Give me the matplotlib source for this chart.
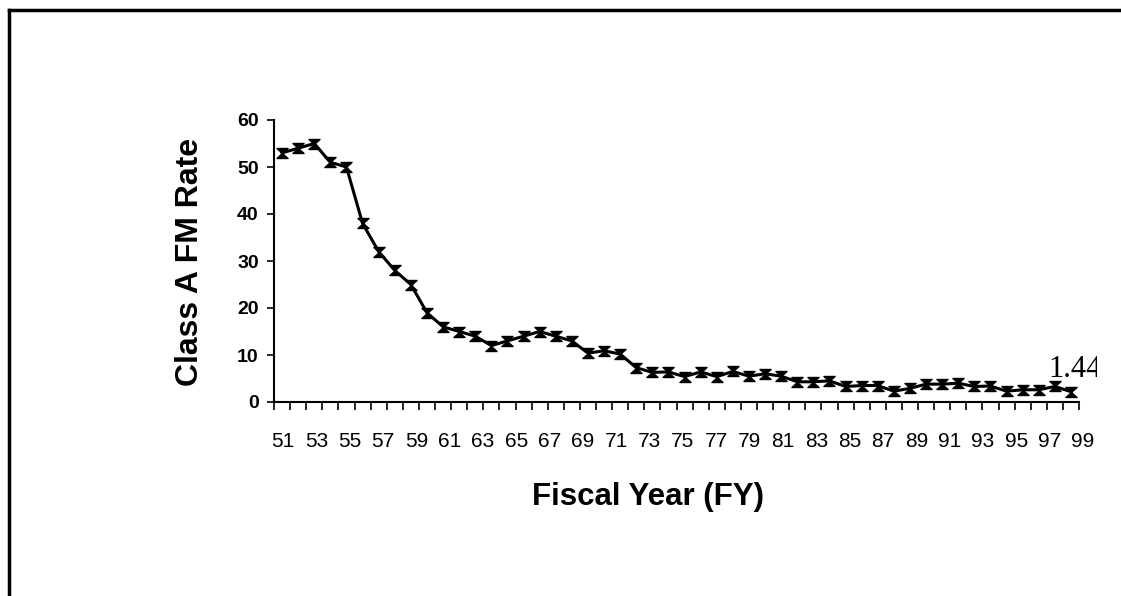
import matplotlib
matplotlib.use("Agg")
import matplotlib.pyplot as plt
from matplotlib.path import Path
from matplotlib.lines import Line2D
import matplotlib.patches as mpatches

# ---- data ----
years = list(range(51, 101))
rates = [53, 54, 55, 51, 50, 38, 32, 28, 25, 19,
         16, 15, 14, 12, 13, 14, 15, 14, 13, 10.4,
         10.9, 10.2, 7.3, 6.3, 6.4, 5.4, 6.4, 5.4, 6.5, 5.5,
         6.0, 5.5, 4.3, 4.3, 4.5, 3.3, 3.5, 3.5, 2.3, 2.9,
         3.8, 3.8, 4.0, 3.3, 3.4, 2.3, 2.6, 2.6, 3.3, 2.2]
yticks = [0, 10, 20, 30, 40, 50, 60]
xlabels = list(range(51, 100, 2))
end_label = "1.44"

W, H = 1121, 596
fig = plt.figure(figsize=(W / 100, H / 100), dpi=100)
fig.patch.set_facecolor("white")

def fx(px):
    return px / W

def fy(py):
    return 1 - py / H

# frame (left and top edges)
fig.add_artist(Line2D([fx(9), fx(9)], [fy(10), fy(596)], color="black", lw=2.5))
fig.add_artist(Line2D([fx(9), fx(1121)], [fy(10), fy(10)], color="black", lw=2.5))

ax = fig.add_axes([fx(274), fy(402), fx(1079) - fx(274), fy(120) - fy(402)])
hourglass = Path([(-1, 0.9), (1, 0.9), (-1, -0.9), (1, -0.9), (-1, 0.9)],
                 [Path.MOVETO, Path.LINETO, Path.LINETO, Path.LINETO, Path.CLOSEPOLY])
ax.plot(years, rates, color="black", lw=2.2, marker=hourglass, markersize=8,
        markerfacecolor="black", markeredgecolor="black", clip_on=False)
ax.set_xlim(50.5, 100.5)
ax.set_ylim(0, 60)
for s in ["top", "right"]:
    ax.spines[s].set_visible(False)
ax.spines["left"].set_linewidth(1.5)
ax.spines["bottom"].set_linewidth(1.5)
ax.set_xticks([y - 0.5 for y in years] + [years[-1] + 0.5])
ax.set_xticklabels([])
ax.tick_params(axis="x", direction="out", length=6, width=1.2)
ax.set_yticks(yticks)
ax.set_yticklabels([str(v) for v in yticks], fontfamily="Liberation Sans",
                   fontweight="bold", fontsize=14)
ax.tick_params(axis="y", direction="out", length=5, width=1.2, pad=6)

# end value label, clipped on right like the reference
t = fig.text(fx(1048), fy(377), end_label, fontfamily="Liberation Serif",
             fontsize=22, ha="left", va="baseline")
clip = mpatches.Rectangle((0, 0), fx(1097), 1, transform=fig.transFigure)
t.set_clip_path(clip)

# separate row of year labels
ax2 = fig.add_axes([fx(283), fy(432), fx(1083) - fx(283), 0.0001])
ax2.set_xlim(51, 99)
ax2.set_ylim(0, 1)
ax2.patch.set_visible(False)
for s in ax2.spines.values():
    s.set_visible(False)
ax2.set_yticks([])
ax2.set_xticks(xlabels)
ax2.set_xticklabels([str(v) for v in xlabels], fontfamily="Liberation Sans", fontsize=15)
ax2.tick_params(axis="x", length=0, pad=0)

fig.text(fx(190), fy(262), "Class A FM Rate", rotation=90, ha="center", va="center",
         fontfamily="Liberation Sans", fontweight="bold", fontsize=23)
fig.text(fx(648), fy(497), "Fiscal Year (FY)", ha="center", va="center",
         fontfamily="Liberation Sans", fontweight="bold", fontsize=22.5)

fig.savefig("out.png", dpi=100)
